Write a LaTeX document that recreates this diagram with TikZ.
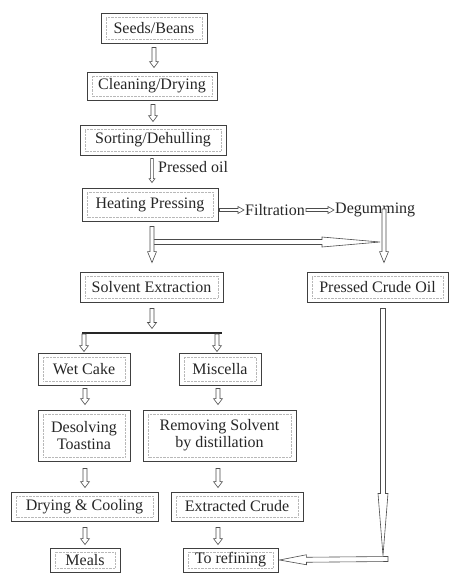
\documentclass[tikz,border=0pt]{standalone}
\usepackage{fontspec}
\setmainfont{Liberation Serif}
\usetikzlibrary{calc}

\tikzset{
  % process step: framed text with a faint dotted inner frame
  stepbox/.style 2 args={draw=black!75, line width=0.9pt, minimum width=#1, minimum height=#2,
    inner sep=0pt, font=\fontsize{16}{17}\selectfont, text=black!85, align=center,
    path picture={\draw[black!28, line width=0.4pt, densely dotted]
      ([shift={(5pt,4pt)}]path picture bounding box.south west) rectangle
      ([shift={(-5pt,-4pt)}]path picture bounding box.north east);}},
  label text/.style={font=\fontsize{16}{17}\selectfont, text=black!85, inner sep=0pt},
  % hollow block arrow: shaft half-width, head half-width, head length
  blockarrow/.style n args={3}{draw=black!70, fill=white, line width=0.6pt, line join=miter,
    to path={let \p1=(\tikztostart), \p2=(\tikztotarget), \p3=($(\p2)!#3!(\p1)$) in
      ($(\p1)!#1!90:(\p2)$) -- ($(\p3)!#1!90:(\p2)$) -- ($(\p3)!#2!90:(\p2)$) -- (\p2)
      -- ($(\p3)!#2!-90:(\p2)$) -- ($(\p3)!#1!-90:(\p2)$) -- ($(\p1)!#1!-90:(\p2)$) -- cycle}},
  stub/.style={blockarrow={2pt}{4.5pt}{6pt}},
  thin stub/.style={blockarrow={1.4pt}{3pt}{4pt}},
  side stub/.style={blockarrow={1.5pt}{3.5pt}{6pt}},
  tall stub/.style={blockarrow={2pt}{4.5pt}{11pt}},
  long arrow/.style={blockarrow={2.5pt}{5pt}{#1}},
}

\begin{document}
\begin{tikzpicture}[x=1pt, y=-1pt]
  \useasboundingbox (0,0) rectangle (449,574);

  % main column
  \node[stepbox={106pt}{30pt}] (seeds) at (154,28) {Seeds/Beans};
  \node[stepbox={130pt}{28pt}] (clean) at (152,86) {Cleaning/Drying};
  \node[stepbox={146pt}{30pt}] (sort)  at (153,140) {Sorting/Dehulling};
  \node[stepbox={136pt}{33pt}] (heat)  at (150,204.5) {Heating Pressing};
  \node[stepbox={143pt}{30pt}] (solv)  at (151.5,287) {Solvent Extraction};
  \node[stepbox={141pt}{30pt}] (pco)   at (377.5,287) {Pressed Crude Oil};

  % meal branch
  \node[stepbox={92pt}{32pt}]  (wet)   at (84,369) {Wet Cake};
  \node[stepbox={92pt}{51pt}]  (deso)  at (84,435.5) {Desolving\\Toastina};
  \node[stepbox={147pt}{29pt}] (dry)   at (84.5,506.5) {Drying \& Cooling};
  \node[stepbox={70pt}{24pt}]  (meals) at (85,560) {Meals};

  % oil branch
  \node[stepbox={82pt}{32pt}]  (misc)  at (220,369) {Miscella};
  \node[stepbox={153pt}{51pt}] (remo)  at (219.5,435.5) {Removing Solvent\\by distillation};
  \node[stepbox={132pt}{29pt}] (extr)  at (237,506.5) {Extracted Crude};
  \node[stepbox={95pt}{24pt}]  (refin) at (230.5,560) {To refining};

  % side labels
  \node[label text, anchor=west] (poil) at (158,167) {Pressed oil};
  \node[label text, anchor=west] (filt) at (245,210) {Filtration};
  \node[label text, anchor=west] (degum) at (335,210) {Degumming};

  % junction points
  \coordinate (hjoin) at (152,242);
  \coordinate (dgtop) at (384,209);
  \coordinate (splitL) at (82,333);
  \coordinate (splitR) at (222,333);
  \coordinate (corner) at (388,559);

  % top sequence
  \draw[stub] ([yshift=-4pt]seeds.south) to ([yshift=4pt,xshift=2pt]clean.north);
  \draw[stub] ([xshift=1pt,yshift=-4pt]clean.south) to ([yshift=3pt]sort.north);
  \draw[thin stub] ([xshift=-1pt,yshift=-3pt]sort.south) to ([xshift=2pt,yshift=5pt]heat.north);

  % pressed oil line
  \draw[side stub] ([xshift=1pt]heat.east |- filt.west) to ([xshift=-1pt]filt.west);
  \draw[side stub] ([xshift=1pt]filt.east) to ([xshift=-1pt]degum.west);
  \draw[long arrow=58pt] (hjoin) to (hjoin -| 380,0);
  \draw[tall stub] ([xshift=2pt,yshift=-5pt]heat.south) to ([xshift=0.5pt,yshift=9pt]solv.north);
  \draw[tall stub] (dgtop) to ([xshift=6.5pt,yshift=9pt]pco.north);

  % solvent split
  \draw[stub] ([xshift=0.5pt,yshift=-6pt]solv.south) to ([xshift=0.5pt,yshift=-26pt]solv.south);
  \draw[black!85, line width=2pt] (splitL) -- (splitR);
  \draw[stub] ([xshift=2pt,yshift=-1pt]splitL) to ([yshift=1pt]wet.north);
  \draw[stub] ([xshift=-5pt,yshift=-1pt]splitR) to ([xshift=-3pt,yshift=1pt]misc.north);

  % meal branch arrows
  \draw[stub] ([xshift=1pt,yshift=-3pt]wet.south) to ([xshift=1pt,yshift=5pt]deso.north);
  \draw[stub] ([xshift=1pt,yshift=-7pt]deso.south) to ([xshift=0.5pt,yshift=4pt]dry.north);
  \draw[stub] ([xshift=0.5pt,yshift=-6pt]dry.south) to ([yshift=3pt]meals.north);

  % oil branch arrows
  \draw[stub] ([xshift=-2pt,yshift=-3pt]misc.south) to ([xshift=-1.5pt,yshift=5pt]remo.north);
  \draw[stub] ([xshift=-1.5pt,yshift=-7pt]remo.south) to ([xshift=-19pt,yshift=4pt]extr.north);
  \draw[stub] ([xshift=-19pt,yshift=-6pt]extr.south) to ([xshift=-12.5pt,yshift=3pt]refin.north);

  % crude oil return to refining
  \draw[long arrow=27pt] (corner) to ([xshift=1pt]refin.east);
  \draw[long arrow=62pt] ([xshift=5.5pt,yshift=-6pt]pco.south) to ([xshift=-5pt,yshift=3.5pt]corner);
\end{tikzpicture}
\end{document}
